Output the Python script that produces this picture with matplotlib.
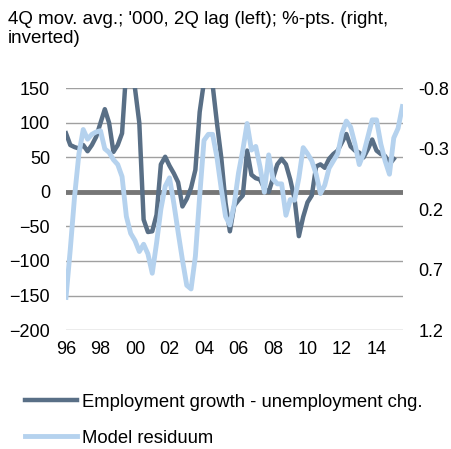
import matplotlib.pyplot as plt
import numpy as np

plt.rcParams['font.family'] = ['Liberation Sans', 'DejaVu Sans']

# quarterly, 1996Q1 onwards
start_year = 1996

# Employment growth - unemployment chg. ('000, left axis)
employment = [85, 68, 65, 63, 68, 59, 68, 80, 100, 120, 100, 58, 68, 85, 180, 200,
              150, 100, -40, -58, -57, -33, 40, 51, 38, 27, 14, -21, -10, 6, 32, 116,
              160, 185, 155, 100, 50, -16, -57, -20, -12, -5, 60, 25, 20, 18, 5, 0,
              20, 40, 48, 40, 18, -10, -64, -36, -15, -5, 37, 40, 35, 48, 55, 60,
              72, 84, 66, 60, 57, 50, 62, 76, 60, 55, 52, 40, 48]

# Model residuum (%-pts, right axis, inverted)
residuum = [0.93, 0.53, 0.09, -0.26, -0.46, -0.38, -0.42, -0.44, -0.45, -0.30, -0.27, -0.21,
            -0.17, -0.07, 0.26, 0.40, 0.46, 0.55, 0.49, 0.57, 0.73, 0.48, 0.20, 0.01,
            -0.06, 0.15, 0.39, 0.62, 0.83, 0.86, 0.59, 0.09, -0.37, -0.42, -0.42, -0.23,
            0.03, 0.26, 0.33, 0.16, -0.10, -0.29, -0.51, -0.29, -0.32, -0.15, 0.06, -0.25,
            -0.05, -0.01, -0.01, 0.25, 0.12, 0.125, -0.06, -0.31, -0.26, -0.20, -0.09, 0.07,
            0.00, -0.14, -0.20, -0.26, -0.43, -0.53, -0.48, -0.34, -0.17, -0.26, -0.40, -0.54,
            -0.54, -0.34, -0.20, -0.09, -0.39, -0.47, -0.65]

left_ticks = [150, 100, 50, 0, -50, -100, -150, -200]
right_ticks = [-0.8, -0.3, 0.2, 0.7, 1.2]
year_ticks = list(range(1996, 2015, 2))
year_labels = ['%02d' % (y % 100) for y in year_ticks]

dark = '#596f86'
light = '#b5d2ee'

x_emp = start_year + 0.25 * np.arange(len(employment))
x_res = start_year + 0.25 * np.arange(len(residuum))

fig = plt.figure(figsize=(4.52, 4.49), dpi=100)
ax = fig.add_axes([0.146, 0.265, 0.745, 0.538])

for v in left_ticks:
    if v != 0:
        ax.axhline(v, color='#a0a0a0', lw=1.0, zorder=1)
ax.axhline(0, color='#767676', lw=3.5, zorder=2)

ax.plot(x_emp, employment, color=dark, lw=3.2, zorder=3,
        solid_joinstyle='round', label='Employment growth - unemployment chg.')
ax.set_ylim(-200, 150)
ax.set_yticks(left_ticks)
ax.set_xlim(1996, 2015.52)
ax.set_xticks(year_ticks)
ax.set_xticklabels(year_labels)

ax2 = ax.twinx()
ax2.plot(x_res, residuum, color=light, lw=3.5, zorder=3,
         solid_joinstyle='round', label='Model residuum')
ax2.set_ylim(1.2, -0.8)
ax2.set_yticks(right_ticks)
ax2.set_yticklabels(['%.1f' % t for t in right_ticks])

for a in (ax, ax2):
    for s in a.spines.values():
        s.set_visible(False)
    a.tick_params(length=0, labelsize=13, colors='black')
ax.tick_params(axis='y', pad=11.5)
ax.tick_params(axis='x', pad=8)
ax2.tick_params(axis='y', pad=11.5)

fig.text(0.018, 0.975, "4Q mov. avg.; '000, 2Q lag (left); %-pts. (right,\ninverted)",
         ha='left', va='top', fontsize=13.5, linespacing=1.15)

h1, l1 = ax.get_legend_handles_labels()
h2, l2 = ax2.get_legend_handles_labels()
fig.legend(h1 + h2, l1 + l2, loc='upper left', bbox_to_anchor=(0.04, 0.14),
           frameon=False, fontsize=13.3, handlelength=2.8, handletextpad=0.25,
           labelspacing=1.05, borderaxespad=0)

fig.savefig('out.png', dpi=100)
